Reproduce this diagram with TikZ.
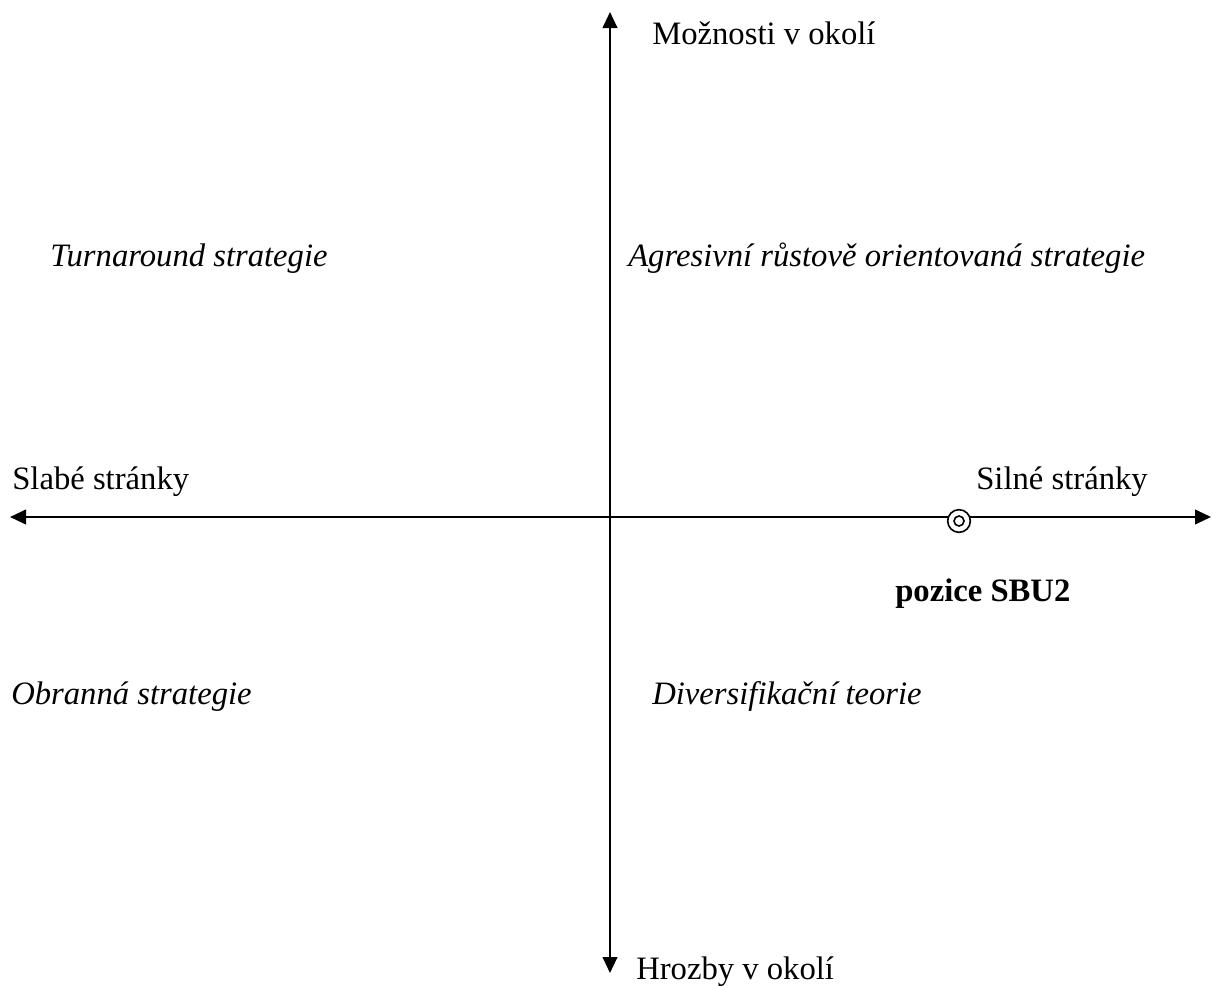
\documentclass[tikz,border=0pt]{standalone}
\usepackage{fontspec}
\setmainfont{Liberation Serif}
\usetikzlibrary{arrows.meta}
\begin{document}
\begin{tikzpicture}[x=0.75pt,y=-0.75pt,
  axisline/.style={line width=1.5pt,{Triangle[length=12pt,width=11pt]}-{Triangle[length=12pt,width=11pt]}},
  lbl/.style={anchor=base west,inner sep=0pt,font=\fontsize{24.5}{28}\selectfont},
  quad/.style={lbl,font=\fontsize{24.5}{28}\selectfont\itshape},
  ring/.style={circle,draw,line width=1.2pt,fill=white,inner sep=0pt}]
\useasboundingbox (0,0) rectangle (1213,985);
% axis end points
\coordinate (N) at (610,12);
\coordinate (S) at (610,973);
\coordinate (W) at (10,517);
\coordinate (E) at (1211,517);
\draw[axisline] (W) -- (E);
\draw[axisline] (N) -- (S);
% axis labels
\node[lbl] (top) at (652,44) {Možnosti v okolí};
\node[lbl] (bottom) at (636,979) {Hrozby v okolí};
\node[lbl] (left) at (12,489) {Slabé stránky};
\node[lbl] (right) at (976,489) {Silné stránky};
% quadrant strategies
\node[quad] (q2) at (50,266) {Turnaround strategie};
\node[quad] (q1) at (628,266) {Agresivní růstově orientovaná strategie};
\node[quad] (q3) at (11,704) {Obranná strategie};
\node[quad] (q4) at (652,704) {Diversifikační teorie};
% SBU position marker
\node[ring,minimum size=17pt] (sbu) at (959,521) {};
\node[ring,minimum size=7.5pt] (sbuin) at (sbu.center) {};
\node[lbl,font=\fontsize{24.5}{28}\selectfont\bfseries] (sbulbl) at (895,601) {pozice SBU2};
\end{tikzpicture}
\end{document}
